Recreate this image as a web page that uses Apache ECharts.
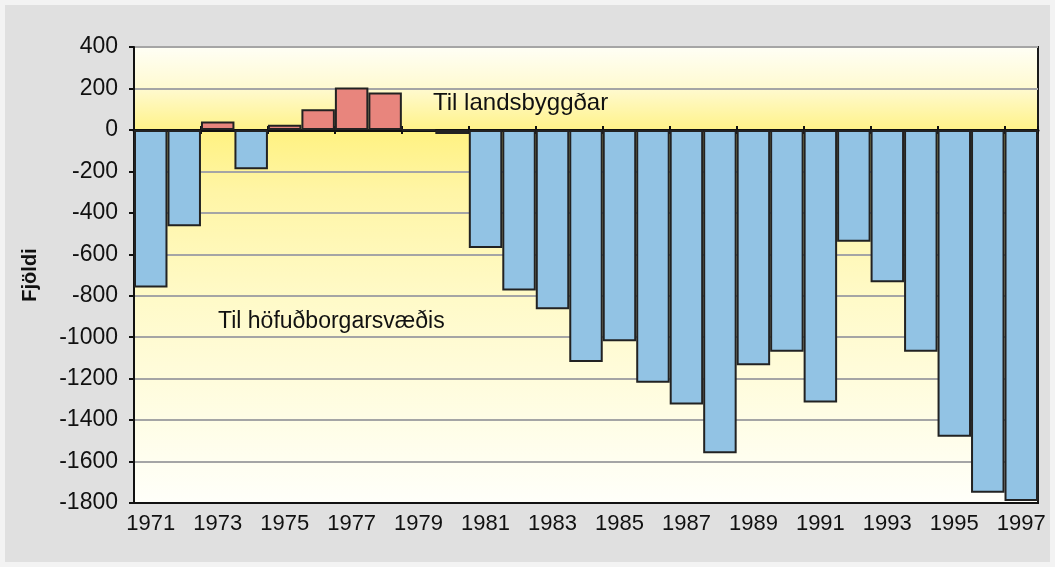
<!DOCTYPE html>
<html>
<head>
<meta charset="utf-8">
<script src="https://cdn.jsdelivr.net/npm/echarts@6/dist/echarts.min.js"></script>
<style>
  body { margin: 0; background: #f3f3f3; }
  #chart { position: absolute; left: 5px; top: 5px; width: 1045px; height: 557px; }
</style>
</head>
<body>
<div id="chart"></div>
<script>
const years = ['1971', '1972', '1973', '1974', '1975', '1976', '1977', '1978', '1979',
  '1980', '1981', '1982', '1983', '1984', '1985', '1986', '1987', '1988', '1989',
  '1990', '1991', '1992', '1993', '1994', '1995', '1996', '1997'];
const netMigration = [-760, -465, 40, -190, 25, 100, 205, 180, 0,
  -20, -570, -775, -865, -1120, -1020, -1220, -1325, -1560, -1135,
  -1070, -1315, -540, -735, -1070, -1480, -1750, -1790];
const yMin = -1800;
const yMax = 400;
const yStep = 200;

const chartDom = document.getElementById('chart');
const myChart = echarts.init(chartDom);
const font = 'Arial, "Liberation Sans", sans-serif';

const option = {
  backgroundColor: '#e0e0e0',
  animation: false,
  grid: {
    left: 129,
    right: 12,
    top: 42,
    bottom: 59,
    show: true,
    borderColor: '#1a1a1a',
    borderWidth: 2,
    backgroundColor: new echarts.graphic.LinearGradient(0, 0, 0, 1, [
      { offset: 0, color: '#fffff6' },
      { offset: 0.09, color: '#fffad2' },
      { offset: 0.19, color: '#fff283' },
      { offset: 0.32, color: '#fff5a6' },
      { offset: 0.55, color: '#fffac8' },
      { offset: 0.8, color: '#fffde4' },
      { offset: 1, color: '#fffffa' }
    ])
  },
  xAxis: [
    {
      type: 'category',
      data: years,
      position: 'bottom',
      axisLine: { onZero: false, lineStyle: { color: '#111', width: 2 } },
      axisTick: { show: false },
      axisLabel: { interval: 1, color: '#111', fontSize: 22, fontFamily: font, margin: 10 },
      splitLine: { show: false }
    },
    {
      // zero line with ticks pointing down
      type: 'category',
      data: years,
      position: 'bottom',
      axisLine: { onZero: true, onZeroAxisIndex: 0, lineStyle: { color: '#111', width: 3 } },
      axisTick: { show: true, length: 4, lineStyle: { color: '#111', width: 2 } },
      axisLabel: { show: false }
    },
    {
      // same ticks pointing up
      type: 'category',
      data: years,
      position: 'bottom',
      axisLine: { onZero: true, onZeroAxisIndex: 0, show: false },
      axisTick: { show: true, inside: true, length: 4, lineStyle: { color: '#111', width: 2 } },
      axisLabel: { show: false }
    }
  ],
  yAxis: {
    type: 'value',
    min: yMin,
    max: yMax,
    interval: yStep,
    name: 'Fjöldi',
    nameLocation: 'middle',
    nameGap: 94,
    nameTextStyle: { fontSize: 20, fontWeight: 'bold', color: '#111', fontFamily: font },
    axisLine: { show: true, lineStyle: { color: '#111', width: 2 } },
    axisTick: { show: true, length: 5, lineStyle: { color: '#111', width: 2 } },
    axisLabel: {
      color: '#111', fontSize: 23, fontFamily: font, margin: 16,
      formatter: v => String(v)
    },
    splitLine: { show: true, lineStyle: { color: '#a5a5a5', width: 2 } }
  },
  series: [
    {
      type: 'bar',
      data: netMigration.map(v => ({
        value: v,
        itemStyle: { color: v > 0 ? '#e8857d' : '#92c3e4' }
      })),
      barWidth: '100%',
      itemStyle: { borderColor: '#222', borderWidth: 2 },
      z: 2
    }
  ],
  graphic: [
    {
      type: 'text', left: 428, top: 86,
      style: { text: 'Til landsbyggðar', font: '24px Arial, "Liberation Sans", sans-serif', fill: '#111' }
    },
    {
      type: 'text', left: 213, top: 305,
      style: { text: 'Til höfuðborgarsvæðis', font: '23px Arial, "Liberation Sans", sans-serif', fill: '#111' }
    }
  ]
};

option && myChart.setOption(option);
window.addEventListener('resize', () => {
  myChart.resize();
});
</script>
</body>
</html>
